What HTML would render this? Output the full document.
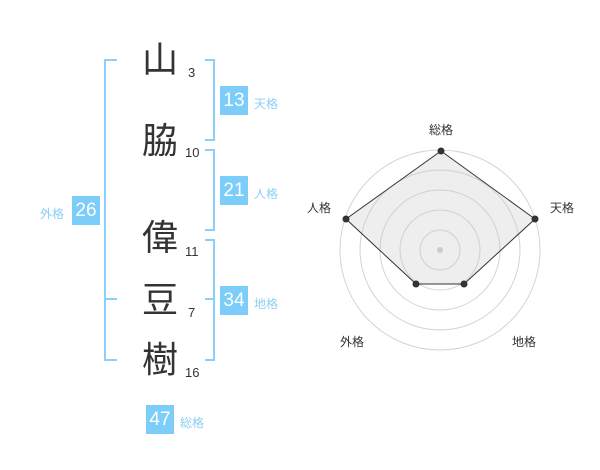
<!DOCTYPE html>
<html><head><meta charset="utf-8"><style>
body{margin:0;width:600px;height:470px;background:#fff;position:relative;overflow:hidden;font-family:"Liberation Sans","Noto Sans CJK JP",sans-serif}
.a{position:absolute}
.k{position:absolute;left:142px;width:36px;font-size:36px;line-height:36px;color:#333;text-align:center}
.n{position:absolute;font-size:13px;color:#333;line-height:14px}
.b{position:absolute;background:#7ccdf9;color:#fff;font-size:19px;width:28px;height:29px;line-height:29px;text-align:center}
.l{position:absolute;font-size:12px;color:#8ccff5;line-height:14px}
.v{position:absolute;background:#8ad0fa;width:2px}
.h{position:absolute;background:#8ad0fa;height:2px}
</style></head><body>
<div class="k" style="top:42px">山</div>
<div class="k" style="top:123px">脇</div>
<div class="k" style="top:220px">偉</div>
<div class="k" style="top:282px">豆</div>
<div class="k" style="top:342px">樹</div>
<div class="n" style="left:188px;top:66px">3</div>
<div class="n" style="left:185px;top:146px">10</div>
<div class="n" style="left:185px;top:245px">11</div>
<div class="n" style="left:188px;top:306px">7</div>
<div class="n" style="left:185px;top:366px">16</div>

<div class="v" style="left:104px;top:59px;height:302px"></div>
<div class="h" style="left:104px;top:59px;width:13px"></div>
<div class="h" style="left:104px;top:298px;width:13px"></div>
<div class="h" style="left:104px;top:359px;width:13px"></div>

<div class="v" style="left:213px;top:59px;height:82px"></div>
<div class="h" style="left:205px;top:59px;width:10px"></div>
<div class="h" style="left:205px;top:139px;width:10px"></div>
<div class="v" style="left:213px;top:149px;height:82px"></div>
<div class="h" style="left:205px;top:149px;width:10px"></div>
<div class="h" style="left:205px;top:229px;width:10px"></div>
<div class="v" style="left:213px;top:239px;height:122px"></div>
<div class="h" style="left:205px;top:239px;width:10px"></div>
<div class="h" style="left:205px;top:298px;width:10px"></div>
<div class="h" style="left:205px;top:359px;width:10px"></div>

<div class="b" style="left:220px;top:86px">13</div><div class="l" style="left:254px;top:97px">天格</div>
<div class="b" style="left:220px;top:176px">21</div><div class="l" style="left:254px;top:187px">人格</div>
<div class="b" style="left:220px;top:286px">34</div><div class="l" style="left:254px;top:297px">地格</div>
<div class="b" style="left:72px;top:196px">26</div><div class="l" style="left:40px;top:207px">外格</div>
<div class="b" style="left:146px;top:405px">47</div><div class="l" style="left:180px;top:416px">総格</div>

<svg class="a" style="left:0;top:0" width="600" height="470">
<g fill="none" stroke="#d4d4d4" stroke-width="1">
<circle cx="440" cy="250" r="20"/><circle cx="440" cy="250" r="40"/><circle cx="440" cy="250" r="60"/><circle cx="440" cy="250" r="80"/><circle cx="440" cy="250" r="100"/>
</g>
<circle cx="440" cy="250" r="3" fill="#ccc"/>
<polygon points="441,151 535,219 464,284 416,284 346,219" fill="rgba(200,200,200,0.3)" stroke="#333" stroke-width="1"/>
<g fill="#333"><circle cx="441" cy="151" r="3.5"/><circle cx="535" cy="219" r="3.5"/><circle cx="464" cy="284" r="3.5"/><circle cx="416" cy="284" r="3.5"/><circle cx="346" cy="219" r="3.5"/></g>
<g font-family="Liberation Sans,Noto Sans CJK JP,sans-serif" font-size="12" fill="#333" text-anchor="middle">
<text x="441" y="134">総格</text><text x="562" y="212">天格</text><text x="319" y="212">人格</text><text x="352" y="346">外格</text><text x="524" y="346">地格</text>
</g>
</svg>
</body></html>
